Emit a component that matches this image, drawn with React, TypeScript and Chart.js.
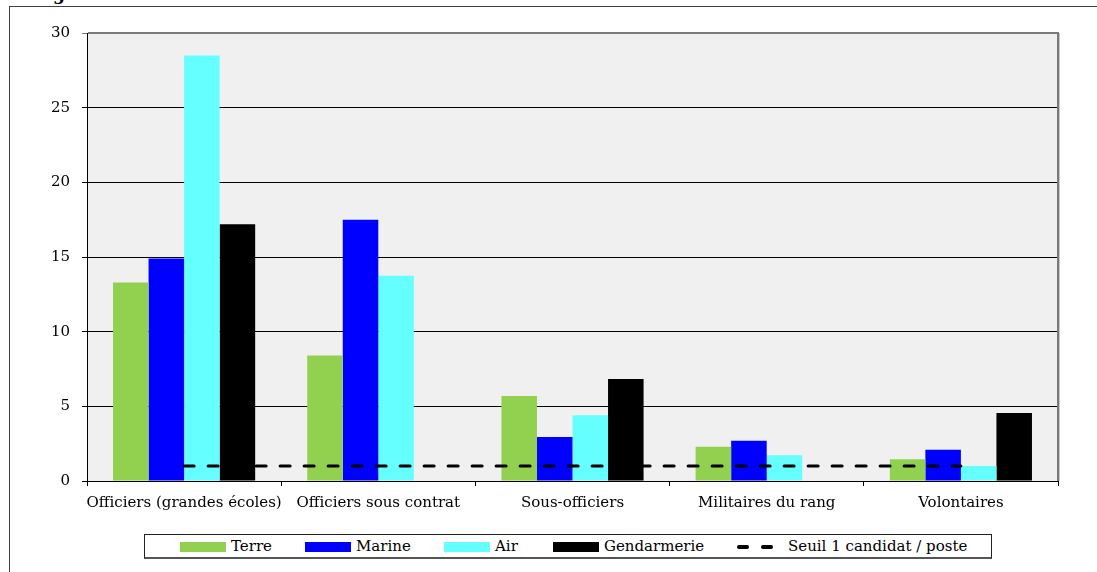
import React, { useEffect, useRef } from 'react';
import { Chart, registerables } from 'chart.js';
Chart.register(...registerables);

const categories = ['Officiers (grandes écoles)', 'Officiers sous contrat', 'Sous-officiers', 'Militaires du rang', 'Volontaires'];
const terre = [13.3, 8.4, 5.7, 2.3, 1.45];
const marine = [14.9, 17.5, 2.95, 2.7, 2.1];
const air = [28.5, 13.75, 4.4, 1.72, 1.0];
const gendarmerie: (number | null)[] = [17.2, null, 6.83, null, 4.55];
const seuil = [1, 1, 1, 1, 1];
const seriesNames = ['Terre', 'Marine', 'Air', 'Gendarmerie', 'Seuil 1 candidat / poste'];
const seriesColors = ['#92d050', '#0000ff', '#66ffff', '#000000', '#000000'];

const FONT = '"DejaVu Serif", serif';

const bgPlugin = {
  id: 'plotBg',
  beforeDraw(chart: any) {
    const { ctx, chartArea } = chart;
    const { left, top, right, bottom } = chartArea;
    ctx.save();
    ctx.fillStyle = '#f0f0f0';
    ctx.fillRect(left, top, right - left, bottom - top);
    ctx.restore();
  },
  afterDraw(chart: any) {
    const { ctx, chartArea } = chart;
    const { left, top, right, bottom } = chartArea;
    ctx.save();
    ctx.strokeStyle = '#7a7a7a';
    ctx.lineWidth = 2;
    ctx.beginPath();
    ctx.moveTo(left + 1, top);
    ctx.lineTo(right, top);
    ctx.lineTo(right, bottom);
    ctx.stroke();
    ctx.strokeStyle = '#c8c8c8';
    ctx.lineWidth = 1;
    ctx.beginPath();
    ctx.moveTo(right + 1.5, top);
    ctx.lineTo(right + 1.5, bottom);
    ctx.stroke();
    ctx.restore();
  },
};

function ChartCanvas() {
  const ref = useRef<HTMLCanvasElement | null>(null);
  useEffect(() => {
    if (!ref.current) return;
    const barData = [terre, marine, air, gendarmerie];
    const datasets: any[] = barData.map((d, i) => ({
      type: 'bar',
      label: seriesNames[i],
      data: d,
      backgroundColor: seriesColors[i],
      borderWidth: 0,
      order: 2,
      barPercentage: 1,
      categoryPercentage: 0.732,
    }));
    datasets.push({
      type: 'line',
      label: seriesNames[4],
      data: seuil,
      borderColor: seriesColors[4],
      borderWidth: 3,
      borderDash: [10, 14],
      borderCapStyle: 'round',
      pointRadius: 0,
      fill: false,
      order: 0,
    });
    const chart = new Chart(ref.current, {
      type: 'bar',
      data: { labels: categories, datasets },
      plugins: [bgPlugin],
      options: {
        animation: false,
        responsive: false,
        devicePixelRatio: 1,
        layout: { padding: { left: 0, top: 33, right: 39, bottom: 0 } },
        plugins: { legend: { display: false }, tooltip: { enabled: false } },
        scales: {
          x: {
            offset: true,
            afterFit: (s: any) => { s.height = 91; },
            grid: { drawOnChartArea: false, drawTicks: true, tickLength: 5, color: '#000', offset: true },
            border: { color: '#000', width: 1 },
            ticks: { color: '#000', font: { family: FONT, size: 15 }, padding: 8, maxRotation: 0, autoSkip: false },
          },
          y: {
            min: 0,
            max: 30,
            afterFit: (s: any) => { s.width = 87; },
            grid: {
              drawTicks: true,
              tickLength: 5,
              color: (c: any) => (c.tick && c.tick.value === 30 ? '#7a7a7a' : '#000'),
            },
            border: { color: '#000', width: 1 },
            ticks: { stepSize: 5, color: '#000', font: { family: FONT, size: 15 }, padding: 12 },
          },
        },
      } as any,
    });
    return () => chart.destroy();
  }, []);
  return <canvas ref={ref} width={1097} height={572} style={{ position: 'absolute', left: 0, top: 0, width: 1097, height: 572 }} />;
}

const legendSwatchLefts = [35, 160, 299, 408];
const txt: React.CSSProperties = { position: 'absolute', top: 1, lineHeight: '20px', fontFamily: FONT, fontSize: 15, color: '#000', whiteSpace: 'nowrap' };

export default function App() {
  return (
    <div style={{ position: 'fixed', left: 0, top: 0, width: 1097, height: 572, background: '#fff', overflow: 'hidden' }}>
      <div style={{ position: 'absolute', left: 9, top: 6, width: 1088, height: 600, borderTop: '1px solid #404040', borderLeft: '1px solid #404040' }} />
      <span style={{ position: 'absolute', left: 53, top: -16, fontFamily: FONT, fontWeight: 'bold', fontSize: 17, lineHeight: '20px' }}>g</span>
      <ChartCanvas />
      <div style={{ position: 'absolute', left: 144, top: 534, width: 848, height: 25, boxSizing: 'border-box', border: '1px solid #222', borderBottom: '2px solid #555', background: '#fff' }}>
        {legendSwatchLefts.map((l, i) => (
          <React.Fragment key={i}>
            <div style={{ position: 'absolute', left: l, top: 7, width: 46, height: 10, background: seriesColors[i] }} />
            <span style={{ ...txt, left: l + 51 }}>{seriesNames[i]}</span>
          </React.Fragment>
        ))}
        <div style={{ position: 'absolute', left: 592, top: 10, width: 12, height: 4, borderRadius: 2, background: '#000' }} />
        <div style={{ position: 'absolute', left: 616, top: 10, width: 12, height: 4, borderRadius: 2, background: '#000' }} />
        <span style={{ ...txt, left: 643 }}>{seriesNames[4]}</span>
      </div>
    </div>
  );
}
